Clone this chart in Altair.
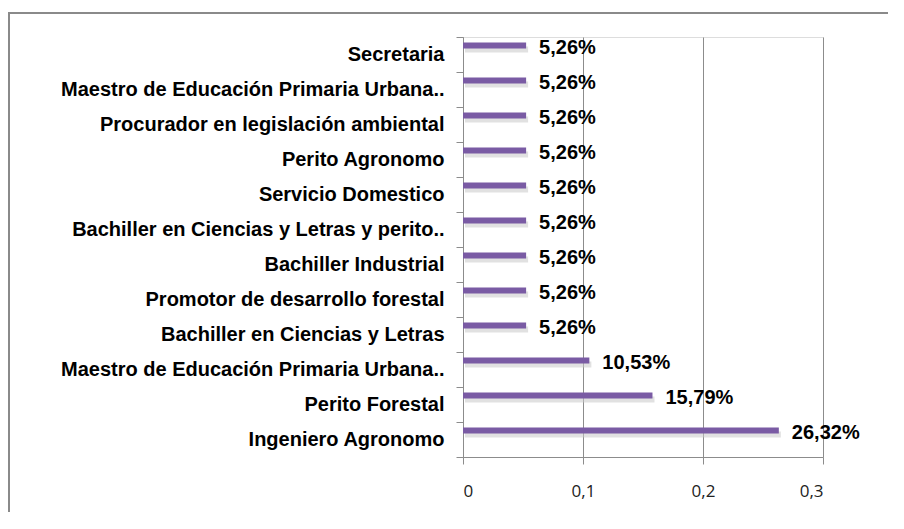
import altair as alt
import pandas as pd

# Categories, top to bottom as shown in the chart
categories = [
    "Secretaria",
    "Maestro de Educación Primaria Urbana..",
    "Procurador en legislación ambiental",
    "Perito Agronomo",
    "Servicio Domestico",
    "Bachiller en Ciencias y Letras y perito..",
    "Bachiller Industrial",
    "Promotor de desarrollo forestal",
    "Bachiller en Ciencias y Letras",
    "Maestro de Educación Primaria Urbana..",
    "Perito Forestal",
    "Ingeniero Agronomo",
]
values = [0.0526, 0.0526, 0.0526, 0.0526, 0.0526, 0.0526,
          0.0526, 0.0526, 0.0526, 0.1053, 0.1579, 0.2632]
value_labels = ["5,26%", "5,26%", "5,26%", "5,26%", "5,26%", "5,26%",
                "5,26%", "5,26%", "5,26%", "10,53%", "15,79%", "26,32%"]
x_ticks = [0, 0.1, 0.2, 0.3]

df = pd.DataFrame({
    "idx": list(range(len(categories))),
    "name": categories,
    "value": values,
    "label": value_labels,
})

names_js = "[" + ",".join("'" + c.replace("'", "\\'") + "'" for c in categories) + "]"

LABEL_FONT = "Liberation Sans"
PURPLE = "#7A5BA4"
GRAY = "#8C8C8C"

y_enc = alt.Y(
    "idx:O",
    title=None,
    scale=alt.Scale(paddingInner=0, paddingOuter=0),
    axis=alt.Axis(
        labelExpr=names_js + "[datum.value]",
        tickBand="extent",
        grid=False,
        domainColor=GRAY,
        tickColor=GRAY,
        tickSize=7,
        labelFont=LABEL_FONT,
        labelFontSize=20,
        labelFontWeight="bold",
        labelColor="#000000",
        labelPadding=12,
        labelLimit=500,
    ),
)
x_enc = alt.X(
    "value:Q",
    title=None,
    scale=alt.Scale(domain=[0, 0.3], nice=False, zero=True),
    axis=alt.Axis(
        values=x_ticks,
        labelExpr="datum.value == 0 ? '0' : replace(format(datum.value, '.1f'), '.', ',')",
        grid=True,
        gridColor=GRAY,
        gridWidth=1,
        domainColor=GRAY,
        tickColor=GRAY,
        tickSize=7,
        labelFont="Open Sans",
        labelFontSize=17,
        labelColor="#222222",
        labelPadding=19,
    ),
)

base = alt.Chart(df)

shadow = base.mark_bar(size=6, yOffset=-5, xOffset=2, color="#c8c8c8", opacity=0.55).encode(
    x=x_enc, y=y_enc
)
bars = base.mark_bar(size=6, yOffset=-9, color=PURPLE).encode(x=x_enc, y=y_enc)
texts = base.mark_text(
    align="left", baseline="middle", dx=13, dy=-7,
    font=LABEL_FONT, fontSize=20, fontWeight="bold", color="#000000",
).encode(x="value:Q", y="idx:O", text="label:N")

frame = alt.Chart(pd.DataFrame({"b": [0]}))
border_left = frame.mark_rect(color="#8a8a8a").encode(
    x=alt.value(-455), x2=alt.value(-453), y=alt.value(-25), y2=alt.value(475)
)
border_top = frame.mark_rect(color="#8a8a8a").encode(
    x=alt.value(-455), x2=alt.value(425), y=alt.value(-25), y2=alt.value(-23)
)

chart = alt.layer(border_left, border_top, shadow, bars, texts).properties(
    width=360,
    height=420,
    autosize=alt.AutoSizeParams(type="none"),
    padding={"left": 455, "top": 29, "right": 65, "bottom": 55},
).configure_view(stroke=None).configure(background="white")

chart.save("out.html", embed_options={"renderer": "svg", "actions": False})
